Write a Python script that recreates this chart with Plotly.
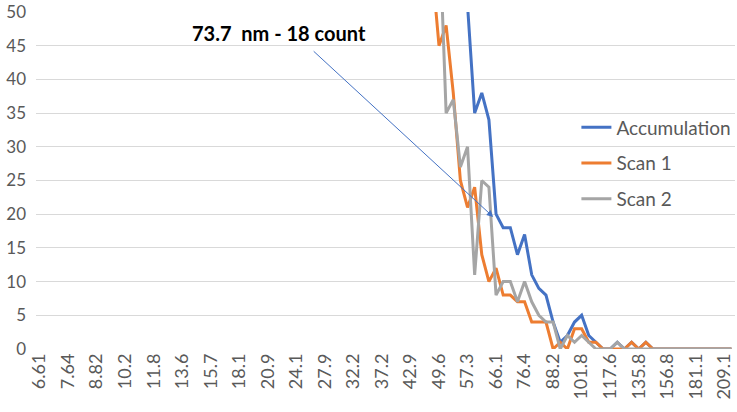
import plotly.graph_objects as go

sizes = ["6.61", "6.85", "7.10", "7.37", "7.64", "7.91", "8.20", "8.51", "8.82", "9.14",
         "9.47", "9.82", "10.2", "10.6", "10.9", "11.3", "11.8", "12.2", "12.6", "13.1",
         "13.6", "14.1", "14.6", "15.1", "15.7", "16.3", "16.8", "17.5", "18.1", "18.8",
         "19.5", "20.2", "20.9", "21.7", "22.5", "23.3", "24.1", "25.0", "25.9", "26.9",
         "27.9", "28.9", "30.0", "31.1", "32.2", "33.4", "34.6", "35.9", "37.2", "38.5",
         "40.0", "41.4", "42.9", "44.5", "46.1", "47.8", "49.6", "51.4", "53.3", "55.2",
         "57.3", "59.4", "61.5", "63.8", "66.1", "68.5", "71.0", "73.7", "76.4", "79.1",
         "82.0", "85.1", "88.2", "91.4", "94.7", "98.2", "101.8", "105.5", "109.4", "113.4",
         "117.6", "121.9", "126.3", "131.0", "135.8", "140.7", "145.9", "151.2", "156.8", "162.5",
         "168.5", "174.7", "181.1", "187.7", "194.6", "201.7", "209.1", "216.7"]

tick_labels = ["6.61", "7.64", "8.82", "10.2", "11.8", "13.6", "15.7", "18.1", "20.9",
               "24.1", "27.9", "32.2", "37.2", "42.9", "49.6", "57.3", "66.1", "76.4",
               "88.2", "101.8", "117.6", "135.8", "156.8", "181.1", "209.1"]

accumulation = [197, 228, 259, 292, 326, 369, 404, 446, 490, 532,
                571, 613, 652, 688, 722, 751, 781, 799, 822, 836,
                845, 853, 848, 841, 830, 813, 794, 769, 742, 712,
                679, 647, 615, 579, 544, 508, 475, 440, 407, 375,
                344, 315, 288, 263, 239, 219, 199, 183, 170, 158,
                149, 141, 135, 130, 126, 122, 109, 83, 75, 52,
                51, 35, 38, 34, 20, 18, 18, 14, 17, 11,
                9, 8, 4, 1, 2, 4, 5, 2, 1, 0,
                0, 1, 0, 1, 0, 1, 0, 0, 0, 0,
                0, 0, 0, 0, 0, 0, 0, 0]

scan1 = [95, 110, 128, 142, 160, 181, 199, 220, 243, 262,
         281, 305, 322, 341, 360, 372, 389, 398, 410, 417,
         421, 425, 423, 420, 414, 405, 396, 383, 370, 355,
         338, 322, 306, 288, 270, 252, 236, 219, 202, 186,
         170, 156, 142, 130, 118, 108, 98, 90, 84, 78,
         73, 69, 66, 63, 60, 57, 45, 48, 38, 25,
         21, 24, 14, 10, 12, 8, 8, 7, 7, 4,
         4, 4, 0, 1, 0, 3, 3, 1, 1, 0,
         0, 0, 0, 1, 0, 1, 0, 0, 0, 0,
         0, 0, 0, 0, 0, 0, 0, 0]

scan2 = [102, 118, 131, 150, 166, 188, 205, 226, 247, 270,
         290, 308, 330, 347, 362, 379, 392, 401, 412, 419,
         424, 428, 425, 421, 416, 408, 398, 386, 372, 357,
         341, 325, 309, 291, 274, 256, 239, 221, 205, 189,
         174, 159, 146, 133, 121, 111, 101, 93, 86, 80,
         76, 72, 69, 67, 66, 65, 64, 35, 37, 27,
         30, 11, 25, 24, 8, 10, 10, 7, 10, 7,
         5, 4, 4, 0, 2, 1, 2, 1, 0, 0,
         0, 1, 0, 0, 0, 0, 0, 0, 0, 0,
         0, 0, 0, 0, 0, 0, 0, 0]

series = [("Accumulation", accumulation, "#4472C4"),
          ("Scan 1", scan1, "#ED7D31"),
          ("Scan 2", scan2, "#A5A5A5")]

FONT = "Lato"

fig = go.Figure()
for i, (name, vals, color) in enumerate(series):
    fig.add_trace(go.Scatter(x=sizes, y=vals, mode="lines", name=name,
                             legendgroup=f"g{i}",
                             line=dict(color=color, width=3),
                             cliponaxis=True))

fig.update_layout(
    width=737, height=412,
    margin=dict(l=36, r=1, t=12, b=63),
    plot_bgcolor="white", paper_bgcolor="white",
    font=dict(family=FONT, color="#595959"),
    showlegend=True,
    legend=dict(x=0.772, y=0.714, xanchor="left", yanchor="top",
                bgcolor="rgba(0,0,0,0)", font=dict(size=19, color="#595959"),
                tracegroupgap=8, itemwidth=30),
    xaxis=dict(type="category", categoryorder="array", categoryarray=sizes,
               range=[-0.5, len(sizes) - 0.5],
               tickmode="array", tickvals=tick_labels, ticktext=tick_labels,
               tickangle=-90, tickfont=dict(size=18, color="#595959"),
               showgrid=False, zeroline=False, showline=False, ticks=""),
    yaxis=dict(range=[0, 50], dtick=5, tickfont=dict(size=17, color="#595959"),
               showgrid=True, gridcolor="#D9D9D9", gridwidth=1,
               zeroline=False, showline=False, ticks="", ticklabelstandoff=9),
)

fig.add_annotation(x=63.6, y=19.6, xref="x", yref="y", text="",
                   showarrow=True, ax=-181, ay=-167, arrowhead=2, arrowsize=1.3,
                   arrowwidth=1, arrowcolor="#4472C4", standoff=0, startstandoff=0)
fig.add_annotation(x=0.347, y=0.938, xref="paper", yref="paper",
                   text="<b>73.7\u00a0 nm - 18 count</b>", showarrow=False,
                   font=dict(size=20, color="#000000", family=FONT),
                   xanchor="center", yanchor="middle")

fig.write_html("out.html")
